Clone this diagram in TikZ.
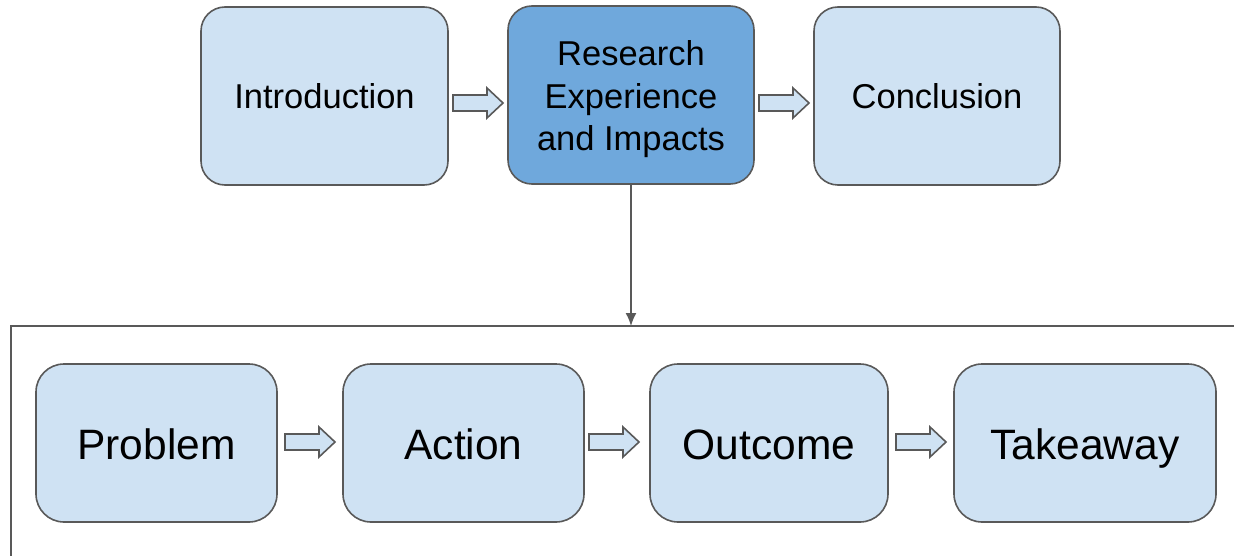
\documentclass[tikz,border=0pt]{standalone}
\usepackage{fontspec}
\setmainfont{Liberation Sans}
\usetikzlibrary{arrows.meta}
\definecolor{lightbox}{HTML}{CFE2F3}
\definecolor{darkbox}{HTML}{6FA8DC}
\definecolor{edge}{HTML}{595959}
\begin{document}
\begin{tikzpicture}[x=1pt,y=-1pt,
  topbox/.style={draw=edge,line width=1.6pt,fill=lightbox,rounded corners=24pt,
    minimum height=178pt,inner sep=0pt,align=center,
    font=\fontsize{34.5}{42.5}\selectfont},
  botbox/.style={draw=edge,line width=1.6pt,fill=lightbox,rounded corners=28pt,
    minimum height=158pt,inner sep=0pt,align=center,
    text height=34pt,text depth=2pt,
    font=\fontsize{42.5}{50}\selectfont},
  blockarrow/.pic={\draw[draw=edge,line width=1.6pt,fill=lightbox,line join=miter]
    (-25,-8) -- (9,-8) -- (9,-15) -- (25,0) -- (9,15) -- (9,8) -- (-25,8) -- cycle;},
  frameline/.style={draw=edge,line width=1.3pt},
  connector/.style={draw=edge,line width=1.6pt,-{Latex[length=13pt,width=11pt]}}
]
\useasboundingbox (0,0) rectangle (1234,556);
\node[topbox,minimum width=247pt] (intro) at (324.5,96) {Introduction};
\node[topbox,minimum width=246pt,fill=darkbox] (research) at (631,95) {\raisebox{-5pt}[\height][\depth]{\begin{tabular}{@{}c@{}}Research\\Experience\\and Impacts\end{tabular}}};
\node[topbox,minimum width=246pt] (concl) at (937,96) {Conclusion};
\node[botbox,minimum width=241pt] (problem) at (156.5,443) {Problem};
\node[botbox,minimum width=241pt] (action) at (463.5,443) {Action};
\node[botbox,minimum width=238pt] (outcome) at (769,443) {Outcome};
\node[botbox,minimum width=262pt] (takeaway) at (1085,443) {Takeaway};
\coordinate (fl) at (11,556);
\coordinate (ftl) at (11,326);
\coordinate (ftr) at (1234,326);
\coordinate (ftarget) at (research.south |- ftl);
\draw[frameline] (fl) -- (ftl) -- (ftr);
\draw[connector] (research.south) -- (ftarget);
\pic at (478,103) {blockarrow};
\pic at (784,103) {blockarrow};
\pic at (310,442) {blockarrow};
\pic at (614,442) {blockarrow};
\pic at (921,442) {blockarrow};
\end{tikzpicture}
\end{document}
